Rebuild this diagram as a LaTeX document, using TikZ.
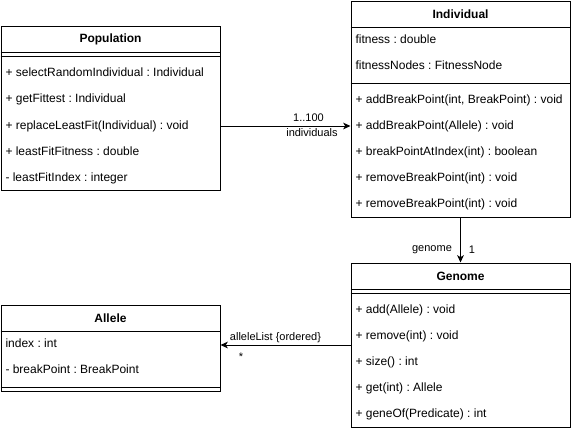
\documentclass[tikz,border=0pt]{standalone}
\usepackage{fontspec}
\setmainfont{Liberation Sans}
\usetikzlibrary{arrows.meta}
\frenchspacing

\tikzset{
  classbox/.style={draw, rectangle, line width=0.75pt, inner sep=0pt},
  classname/.style={inner sep=0pt, font=\fontsize{9}{11}\selectfont\bfseries},
  member/.style={anchor=west, inner sep=0pt, text height=7pt, text depth=2pt, font=\fontsize{9}{11}\selectfont},
  edgelabel/.style={inner sep=0pt, font=\fontsize{8.25}{10}\selectfont},
  assoc/.style={-{Stealth[length=5.5pt, width=5pt, inset=1.5pt]}, line width=0.75pt}
}

\begin{document}
\begin{tikzpicture}[x=0.75pt, y=-0.75pt, line width=0.75pt]
  \useasboundingbox (0,0) rectangle (571,430);

  % class boxes
  \node[classbox, minimum width=164.25pt, minimum height=123pt] (pop) at (110.5,108) {};
  \node[classbox, minimum width=164.25pt, minimum height=162pt] (ind) at (460.5,109) {};
  \node[classbox, minimum width=164.25pt, minimum height=123pt] (gen) at (460.5,345) {};
  \node[classbox, minimum width=164.25pt, minimum height=64.5pt] (all) at (110.5,348) {};

  % Population
  \node[classname] (pop-name) at (110.5,39) {Population};
  \draw (pop.west |- 0,52) -- (pop.east |- 0,52);
  \draw (pop.west |- 0,56) -- (pop.east |- 0,56);
  \node[member] (pop-m1) at (5,73.5) {+ selectRandomIndividual : Individual};
  \node[member] (pop-m2) at (5,99.5) {+ getFittest : Individual};
  \node[member] (pop-m3) at (5,126) {+ replaceLeastFit(Individual) : void};
  \node[member] (pop-m4) at (5,152) {+ leastFitFitness : double};
  \node[member] (pop-m5) at (5,178) {- leastFitIndex : integer};

  % Individual
  \node[classname] (ind-name) at (460.5,14) {Individual};
  \draw (ind.west |- 0,27) -- (ind.east |- 0,27);
  \node[member] (ind-a1) at (355,40.5) {fitness : double};
  \node[member] (ind-a2) at (355,66) {fitnessNodes : FitnessNode};
  \draw (ind.west |- 0,83) -- (ind.east |- 0,83);
  \node[member] (ind-m1) at (355,100.5) {+ addBreakPoint(int, BreakPoint) : void};
  \node[member] (ind-m2) at (355,126.5) {+ addBreakPoint(Allele) : void};
  \node[member] (ind-m3) at (355,152.5) {+ breakPointAtIndex(int) : boolean};
  \node[member] (ind-m4) at (355,178.5) {+ removeBreakPoint(int) : void};
  \node[member] (ind-m5) at (355,204.5) {+ removeBreakPoint(int) : void};

  % Genome
  \node[classname] (gen-name) at (460.5,276.5) {Genome};
  \draw (gen.west |- 0,289) -- (gen.east |- 0,289);
  \draw (gen.west |- 0,293) -- (gen.east |- 0,293);
  \node[member] (gen-m1) at (355,310.5) {+ add(Allele) : void};
  \node[member] (gen-m2) at (355,336.5) {+ remove(int) : void};
  \node[member] (gen-m3) at (355,362.5) {+ size() : int};
  \node[member] (gen-m4) at (355,388.5) {+ get(int) : Allele};
  \node[member] (gen-m5) at (355,414) {+ geneOf(Predicate) : int};

  % Allele
  \node[classname] (all-name) at (110.5,318) {Allele};
  \draw (all.west |- 0,331) -- (all.east |- 0,331);
  \node[member] (all-a1) at (5,344.5) {index : int};
  \node[member] (all-a2) at (5,370.5) {- breakPoint : BreakPoint};
  \draw (all.west |- 0,387) -- (all.east |- 0,387);

  % associations
  \draw[assoc] (pop.east |- 0,126) -- (ind.west |- 0,126);
  \node[edgelabel] (lbl-count) at (308.5,118) {1..100};
  \node[edgelabel] (lbl-indiv) at (312,133) {individuals};

  \draw[assoc] (ind.south) -- (gen.north);
  \node[edgelabel] (lbl-genome) at (432,250) {genome};
  \node[edgelabel] (lbl-one) at (472,250) {1};

  \draw[assoc] (gen.west) -- (gen.west -| all.east);
  \node[edgelabel] (lbl-list) at (275.5,338) {alleleList \{ordered\}};
  \node[edgelabel] (lbl-star) at (241,357) {*};
\end{tikzpicture}
\end{document}
